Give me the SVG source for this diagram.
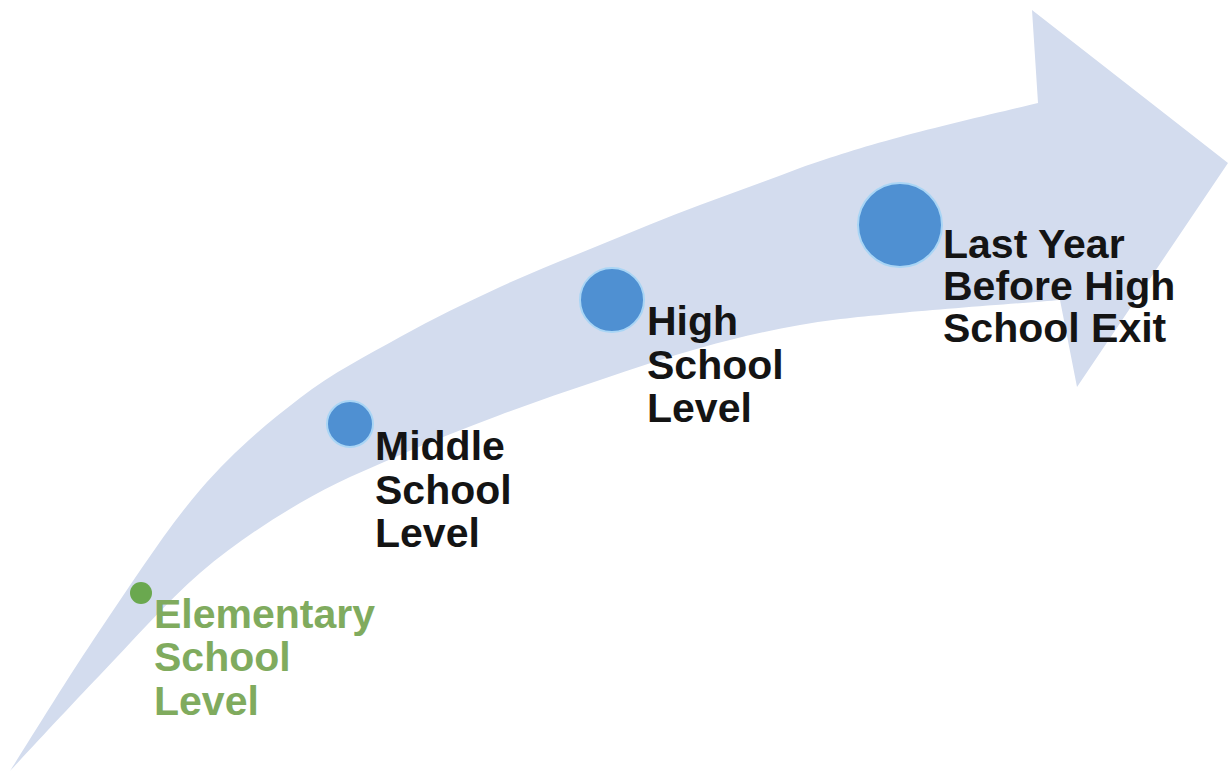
<svg xmlns="http://www.w3.org/2000/svg" width="1231" height="771" viewBox="0 0 1231 771">
  <style>
    .lbl { font-family: "Liberation Sans", Arial, sans-serif; font-weight: bold; font-size: 41px; fill: #141414; }
    .green { fill: #80ab5e; }
    .dot { fill: #4f90d2; stroke: #a9d5f5; stroke-width: 2; }
  </style>
  <rect width="1231" height="771" fill="#ffffff"/>
  <g id="arrow">
    <path fill="#d3dcee" d="M 10,771
      C 25,747.5 68.3,676.8 100,630
      C 131.7,583.2 166.7,528.7 200,490
      C 233.3,451.3 266.7,423.5 300,398
      C 333.3,372.5 366.7,355.5 400,337
      C 433.3,318.5 466.7,302.3 500,287
      C 533.3,271.7 566.7,258.7 600,245
      C 633.3,231.3 666.7,217.2 700,205
      C 733.3,192.8 766.7,180.7 800,168
      C 833.3,156.3 860.3,147.8 900,137
      C 939.7,126.2 1015,108.7 1038,103
      L 1032,10 L 1228,163 L 1077,387 L 1060,300
      C 1033.3,302.2 943.3,308.8 900,313
      C 856.7,317.2 833.3,319.2 800,325
      C 766.7,330.8 733.3,338.8 700,348
      C 666.7,357.2 633.3,368.8 600,380
      C 566.7,391.2 533.3,402.5 500,415
      C 466.7,427.5 433.3,440.3 400,455
      C 366.7,469.7 333.3,483.3 300,503
      C 266.7,522.7 233.3,544.3 200,573
      C 166.7,601.7 131.7,642 100,675
      C 68.3,708 25,755 10,771 Z"/>
  </g>
  <g id="elementary">
    <circle cx="141" cy="593" r="11" fill="#6aa84f"/>
    <text class="lbl green" x="154"><tspan x="154" y="628">Elementary</tspan><tspan x="154" y="671">School</tspan><tspan x="154" y="715">Level</tspan></text>
  </g>
  <g id="middle">
    <circle class="dot" cx="350" cy="424" r="23"/>
    <text class="lbl" x="375"><tspan x="375" y="460">Middle</tspan><tspan x="375" y="504">School</tspan><tspan x="375" y="547">Level</tspan></text>
  </g>
  <g id="high">
    <circle class="dot" cx="612" cy="300" r="32"/>
    <text class="lbl" x="647"><tspan x="647" y="335">High</tspan><tspan x="647" y="379">School</tspan><tspan x="647" y="422">Level</tspan></text>
  </g>
  <g id="lastyear">
    <circle class="dot" cx="900" cy="225" r="42"/>
    <text class="lbl" x="943"><tspan x="943" y="258">Last Year</tspan><tspan x="943" y="300">Before High</tspan><tspan x="943" y="342">School Exit</tspan></text>
  </g>
</svg>
